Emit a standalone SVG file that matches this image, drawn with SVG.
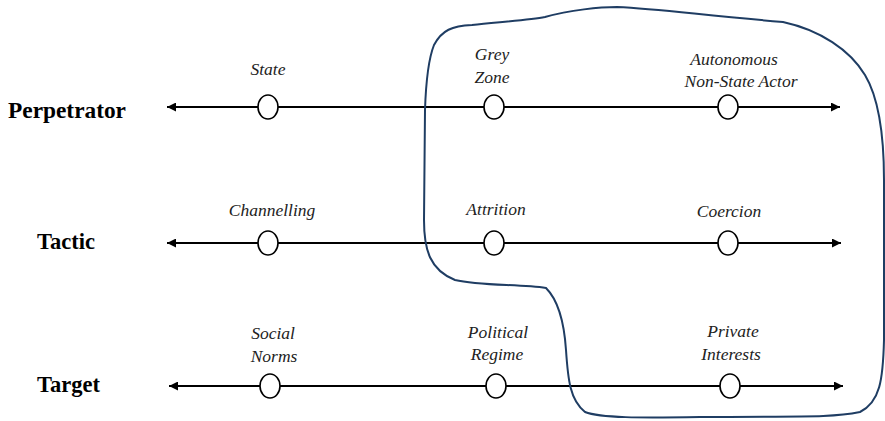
<svg xmlns="http://www.w3.org/2000/svg" width="885" height="421" viewBox="0 0 885 421">
<style>
.axis{stroke:#000;stroke-width:2;fill:none}
.node{fill:#fff;stroke:#000;stroke-width:1.6}
.lbl{font-family:"Liberation Serif","Times New Roman",serif;font-style:italic;font-size:17.5px;fill:#222;text-anchor:middle}
.row{font-family:"Liberation Serif","Times New Roman",serif;font-weight:bold;font-size:22.5px;fill:#000}
.blob{fill:none;stroke:#1f3d63;stroke-width:2}
</style>
<defs>
<marker id="ah" viewBox="0 0 10 10" refX="10" refY="5" markerWidth="10" markerHeight="9" markerUnits="userSpaceOnUse" orient="auto-start-reverse">
<path d="M0,0 L10,5 L0,10 z" fill="#000"/>
</marker>
</defs>
<g id="connectors">
<line class="axis" x1="167" y1="107" x2="840" y2="107" marker-start="url(#ah)" marker-end="url(#ah)"/>
<line class="axis" x1="167" y1="243" x2="841" y2="243" marker-start="url(#ah)" marker-end="url(#ah)"/>
<line class="axis" x1="169" y1="386" x2="843" y2="386" marker-start="url(#ah)" marker-end="url(#ah)"/>
</g>
<g id="row-perpetrator"><text class="row" x="8" y="118" textLength="118" lengthAdjust="spacingAndGlyphs">Perpetrator</text></g>
<g id="row-tactic"><text class="row" x="37" y="249">Tactic</text></g>
<g id="row-target"><text class="row" x="37" y="392">Target</text></g>
<g id="state"><ellipse class="node" cx="268" cy="107" rx="10" ry="12"/><text class="lbl" x="268" y="75">State</text></g>
<g id="grey-zone"><ellipse class="node" cx="494" cy="107" rx="10" ry="12"/><text class="lbl" x="492" y="60">Grey</text><text class="lbl" x="492" y="83">Zone</text></g>
<g id="autonomous"><ellipse class="node" cx="728" cy="107" rx="10" ry="12"/><text class="lbl" x="734" y="65">Autonomous</text><text class="lbl" x="741" y="87">Non-State Actor</text></g>
<g id="channelling"><ellipse class="node" cx="268" cy="243" rx="10" ry="12"/><text class="lbl" x="272" y="216">Channelling</text></g>
<g id="attrition"><ellipse class="node" cx="494" cy="243" rx="10" ry="12"/><text class="lbl" x="496" y="215">Attrition</text></g>
<g id="coercion"><ellipse class="node" cx="728" cy="243" rx="10" ry="12"/><text class="lbl" x="729" y="217">Coercion</text></g>
<g id="social-norms"><ellipse class="node" cx="270" cy="386" rx="10" ry="12"/><text class="lbl" x="273" y="339">Social</text><text class="lbl" x="274" y="362">Norms</text></g>
<g id="political-regime"><ellipse class="node" cx="496" cy="386" rx="10" ry="12"/><text class="lbl" x="498" y="338">Political</text><text class="lbl" x="497" y="360">Regime</text></g>
<g id="private-interests"><ellipse class="node" cx="730" cy="386" rx="10" ry="12"/><text class="lbl" x="733" y="337">Private</text><text class="lbl" x="731" y="360">Interests</text></g>
<path class="blob" d="M617,7 C660,9 700,15 783,22 C820,30 850,50 865,75 C880,100 884,140 884,180 L884,340 C883,380 880,402 860,412 C830,418 800,416 700,417 C640,418 600,418 585,412 C570,400 568,380 566,350 C564,320 558,300 546,288 C520,284 480,286 455,280 C430,270 424,250 424,220 L425,110 C426,80 428,60 434,45 C442,30 452,26 472,25 C500,22 530,20 545,17 C570,10 600,7 617,7 Z"/>
</svg>
